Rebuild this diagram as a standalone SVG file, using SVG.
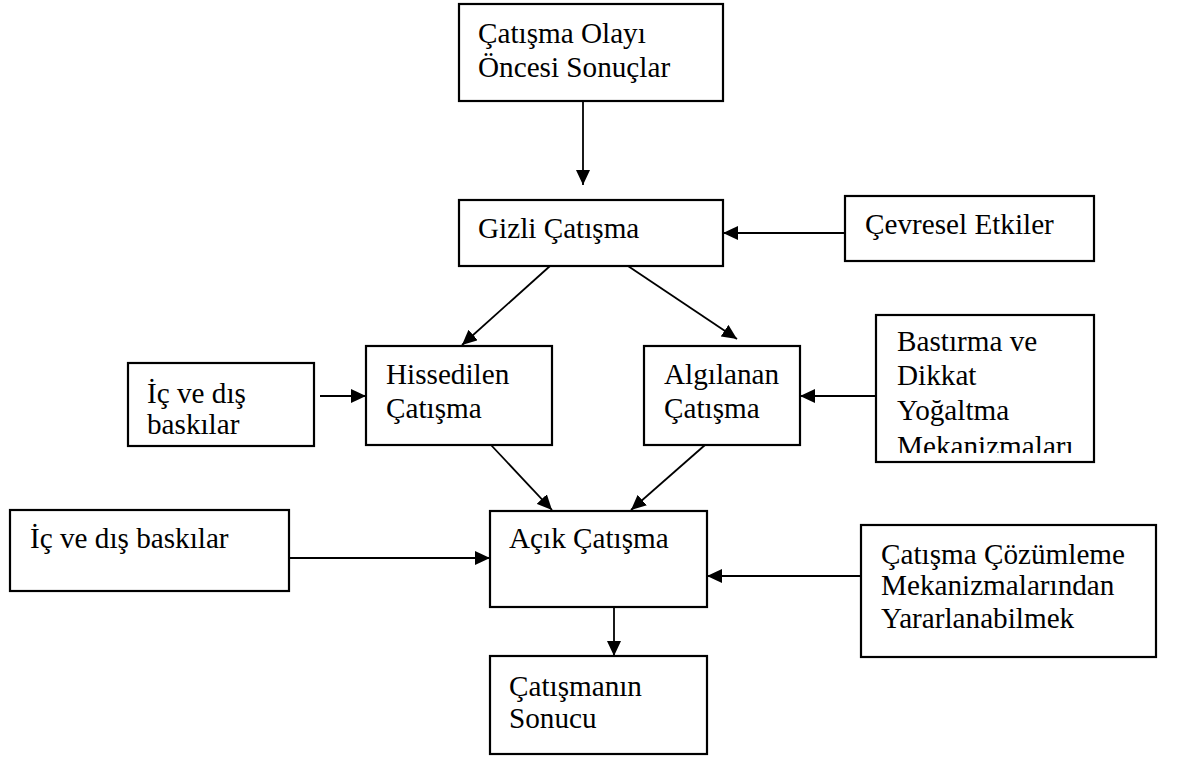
<svg xmlns="http://www.w3.org/2000/svg" width="1179" height="760" viewBox="0 0 1179 760">
<style>
.box{fill:#fff;stroke:#000;stroke-width:2.2}
.t{font-family:"Liberation Serif","Times New Roman",serif;font-size:29.2px;fill:#000}
.c{stroke:#000;stroke-width:1.8;fill:none;marker-end:url(#ah)}
</style>
<defs>
<marker id="ah" markerUnits="userSpaceOnUse" markerWidth="16" markerHeight="14" refX="15" refY="7" orient="auto">
<path d="M0,0 L15,7 L0,14 Z" fill="#000"/>
</marker>
<clipPath id="clipB"><rect x="876" y="315" width="218" height="138"/></clipPath>
</defs>
<rect width="1179" height="760" fill="#fff"/>
<g id="connectors">
<line class="c" x1="583" y1="101" x2="583" y2="185"/>
<line class="c" x1="845" y1="233" x2="723" y2="233"/>
<line class="c" x1="550" y1="266" x2="462" y2="345"/>
<line class="c" x1="628" y1="266" x2="737" y2="339"/>
<line class="c" x1="320" y1="396" x2="366" y2="396"/>
<line class="c" x1="876" y1="396" x2="800" y2="396"/>
<line class="c" x1="491" y1="445" x2="552" y2="510"/>
<line class="c" x1="705" y1="445" x2="631" y2="510"/>
<line class="c" x1="290" y1="558" x2="490" y2="558"/>
<line class="c" x1="862" y1="576" x2="707" y2="576"/>
<line class="c" x1="614" y1="607" x2="614" y2="656"/>
</g>
<g id="n-oncesi">
<rect class="box" x="459" y="4" width="264" height="97"/>
<text class="t" x="478" y="43">Çatışma Olayı</text>
<text class="t" x="478" y="77">Öncesi Sonuçlar</text>
</g>
<g id="n-gizli">
<rect class="box" x="459" y="200" width="264" height="66"/>
<text class="t" x="478" y="238">Gizli Çatışma</text>
</g>
<g id="n-cevresel">
<rect class="box" x="845" y="196" width="249" height="65"/>
<text class="t" x="865" y="234">Çevresel Etkiler</text>
</g>
<g id="n-ic1">
<rect class="box" x="128" y="363" width="186" height="83"/>
<text class="t" x="147" y="403">İç ve dış</text>
<text class="t" x="147" y="434">baskılar</text>
</g>
<g id="n-hissedilen">
<rect class="box" x="366" y="346" width="186" height="99"/>
<text class="t" x="386" y="384">Hissedilen</text>
<text class="t" x="386" y="418">Çatışma</text>
</g>
<g id="n-algilanan">
<rect class="box" x="644" y="346" width="156" height="99"/>
<text class="t" x="664" y="384">Algılanan</text>
<text class="t" x="664" y="418">Çatışma</text>
</g>
<g id="n-bastirma">
<rect class="box" x="876" y="315" width="218" height="147"/>
<g clip-path="url(#clipB)">
<text class="t" x="897" y="351">Bastırma ve</text>
<text class="t" x="897" y="385">Dikkat</text>
<text class="t" x="897" y="420">Yoğaltma</text>
<text class="t" x="897" y="456">Mekanizmaları</text>
</g>
</g>
<g id="n-ic2">
<rect class="box" x="10" y="510" width="279" height="81"/>
<text class="t" x="30" y="548">İç ve dış baskılar</text>
</g>
<g id="n-acik">
<rect class="box" x="490" y="511" width="217" height="96"/>
<text class="t" x="509" y="548">Açık Çatışma</text>
</g>
<g id="n-cozumleme">
<rect class="box" x="861" y="525" width="295" height="132"/>
<text class="t" x="881" y="564">Çatışma Çözümleme</text>
<text class="t" x="881" y="595">Mekanizmalarından</text>
<text class="t" x="881" y="628">Yararlanabilmek</text>
</g>
<g id="n-sonuc">
<rect class="box" x="490" y="656" width="217" height="98"/>
<text class="t" x="509" y="696">Çatışmanın</text>
<text class="t" x="509" y="728">Sonucu</text>
</g>
</svg>
